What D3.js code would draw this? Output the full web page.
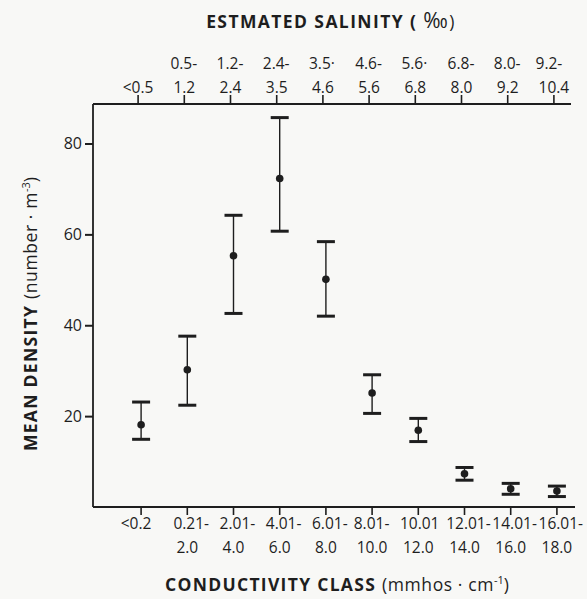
<!DOCTYPE html>
<html><head><meta charset="utf-8">
<script src="https://cdn.jsdelivr.net/npm/d3@7"></script>
<style>
body{margin:0;background:#f8f8f6;}
svg{display:block;}
text{font-family:"Open Sans","DejaVu Sans",sans-serif;fill:#1e1e1e;}
</style></head>
<body>
<svg id="chart" width="587" height="599"></svg>
<script>
const condLine1 = ["<0.2","0.21-","2.01-","4.01-","6.01-","8.01-","10.01","12.01-","14.01-","16.01-"];
const condLine2 = ["","2.0","4.0","6.0","8.0","10.0","12.0","14.0","16.0","18.0"];
const salLine1 = ["","0.5-","1.2-","2.4-","3.5·","4.6-","5.6·","6.8-","8.0-","9.2-"];
const salLine2 = ["<0.5","1.2","2.4","3.5","4.6","5.6","6.8","8.0","9.2","10.4"];
const meanDensity = [18.1, 30.2, 55.3, 72.3, 50.1, 25.1, 16.9, 7.3, 4.0, 3.5];
const upperBound  = [23.1, 37.6, 64.2, 85.7, 58.4, 29.1, 19.5, 8.7, 5.2, 4.6];
const lowerBound  = [14.9, 22.4, 42.6, 60.7, 42.0, 20.6, 14.4, 5.9, 2.8, 2.3];
const yTicks = [20, 40, 60, 80];

const svg = d3.select("#chart");
const mLeft = 93, mRight = 575, mTop = 104, mBottom = 507;
const ink = "#1e1e1e";
const fs = 15.5;

const x = d3.scaleBand().domain(d3.range(10)).range([118, 580]).padding(0);
const cx = i => x(i) + x.bandwidth()/2;
const y = d3.scaleLinear().domain([0, 80]).range([mBottom, 143.5]);

// frame lines
svg.append("line").attr("x1",mLeft).attr("x2",mLeft).attr("y1",mTop).attr("y2",mBottom).attr("stroke",ink).attr("stroke-width",1.8);
svg.append("line").attr("x1",mLeft).attr("x2",mRight).attr("y1",mBottom).attr("y2",mBottom).attr("stroke",ink).attr("stroke-width",1.8);
svg.append("line").attr("x1",mLeft).attr("x2",mRight-4).attr("y1",mTop).attr("y2",mTop).attr("stroke",ink).attr("stroke-width",1.8);

// left axis
const yAxis = d3.axisLeft(y).tickValues(yTicks).tickSize(8).tickPadding(3).tickFormat(d3.format("d"));
const gy = svg.append("g").attr("transform",`translate(${mLeft},0)`).call(yAxis);
gy.select(".domain").remove();
gy.selectAll(".tick line").attr("stroke",ink).attr("stroke-width",2);
gy.selectAll(".tick text").attr("font-size",16).style("font-family",'"Open Sans",sans-serif').attr("fill",ink);

// bottom axis
const xAxisB = d3.axisBottom(x).tickSize(8).tickFormat("");
const gb = svg.append("g").attr("transform",`translate(0,${mBottom})`).call(xAxisB);
gb.select(".domain").remove();
gb.selectAll(".tick line").attr("stroke",ink).attr("stroke-width",1.6);

// top axis
const xAxisT = d3.axisTop(x).tickSize(9).tickFormat("");
const gt = svg.append("g").attr("transform",`translate(-3,${mTop})`).call(xAxisT);
gt.select(".domain").remove();
gt.selectAll(".tick line").attr("stroke",ink).attr("stroke-width",1.6);

// two-line labels: second line centered at tick, first line left-aligned with second
function twoLine(l1, l2, y1, y2, dx) {
  d3.range(10).forEach(i => {
    const xc = cx(i) + dx;
    if (l2[i]) {
      const t2 = svg.append("text").attr("x", xc).attr("y", y2).attr("text-anchor","middle").attr("font-size",fs).text(l2[i]);
      if (l1[i]) {
        const w2 = t2.node().getComputedTextLength();
        svg.append("text").attr("x", xc - w2/2 - 3).attr("y", y1).attr("text-anchor","start").attr("font-size",fs).text(l1[i]);
      }
    } else if (l1[i]) {
      svg.append("text").attr("x", xc - 5).attr("y", y1).attr("text-anchor","middle").attr("font-size",fs).text(l1[i]);
    }
  });
}
twoLine(condLine1, condLine2, 529, 553, 0);
twoLine(salLine1, salLine2, 69, 93, -3);

// error bars
const g = svg.append("g");
d3.range(10).forEach(i => {
  const xc = cx(i);
  g.append("line").attr("x1",xc).attr("x2",xc).attr("y1",y(upperBound[i])).attr("y2",y(lowerBound[i])).attr("stroke",ink).attr("stroke-width",1.4);
  [upperBound[i], lowerBound[i]].forEach(v => {
    g.append("line").attr("x1",xc-9).attr("x2",xc+9).attr("y1",y(v)).attr("y2",y(v)).attr("stroke",ink).attr("stroke-width",3);
  });
  g.append("circle").attr("cx",xc).attr("cy",y(meanDensity[i])).attr("r",3.8).attr("fill",ink);
});

// titles
const tt = svg.append("text").attr("x",331).attr("y",28).attr("text-anchor","middle").attr("font-size",17.5).attr("font-weight","bold").attr("letter-spacing",1.4);
tt.append("tspan").text("ESTMATED SALINITY ( ");
tt.append("tspan").attr("font-size",21).attr("font-weight","normal").text("‰");
tt.append("tspan").attr("font-weight","normal").text(")");

const bt = svg.append("text").attr("x",337).attr("y",591).attr("text-anchor","middle").attr("font-size",17.5);
bt.append("tspan").attr("font-weight","bold").attr("letter-spacing",1.3).text("CONDUCTIVITY CLASS ");
bt.append("tspan").attr("letter-spacing",0.6).text("(mmhos · cm");
bt.append("tspan").attr("dy",-7).attr("font-size",11).text("-1");
bt.append("tspan").attr("dy",7).text(")");

const yt = svg.append("text").attr("transform","translate(37,314) rotate(-90)").attr("text-anchor","middle").attr("font-size",17.5);
yt.append("tspan").attr("font-weight","bold").attr("letter-spacing",1.3).text("MEAN DENSITY ");
yt.append("tspan").attr("letter-spacing",0.6).text("(number · m");
yt.append("tspan").attr("dy",-7).attr("font-size",11).text("-3");
yt.append("tspan").attr("dy",7).text(")");
</script>
</body></html>
